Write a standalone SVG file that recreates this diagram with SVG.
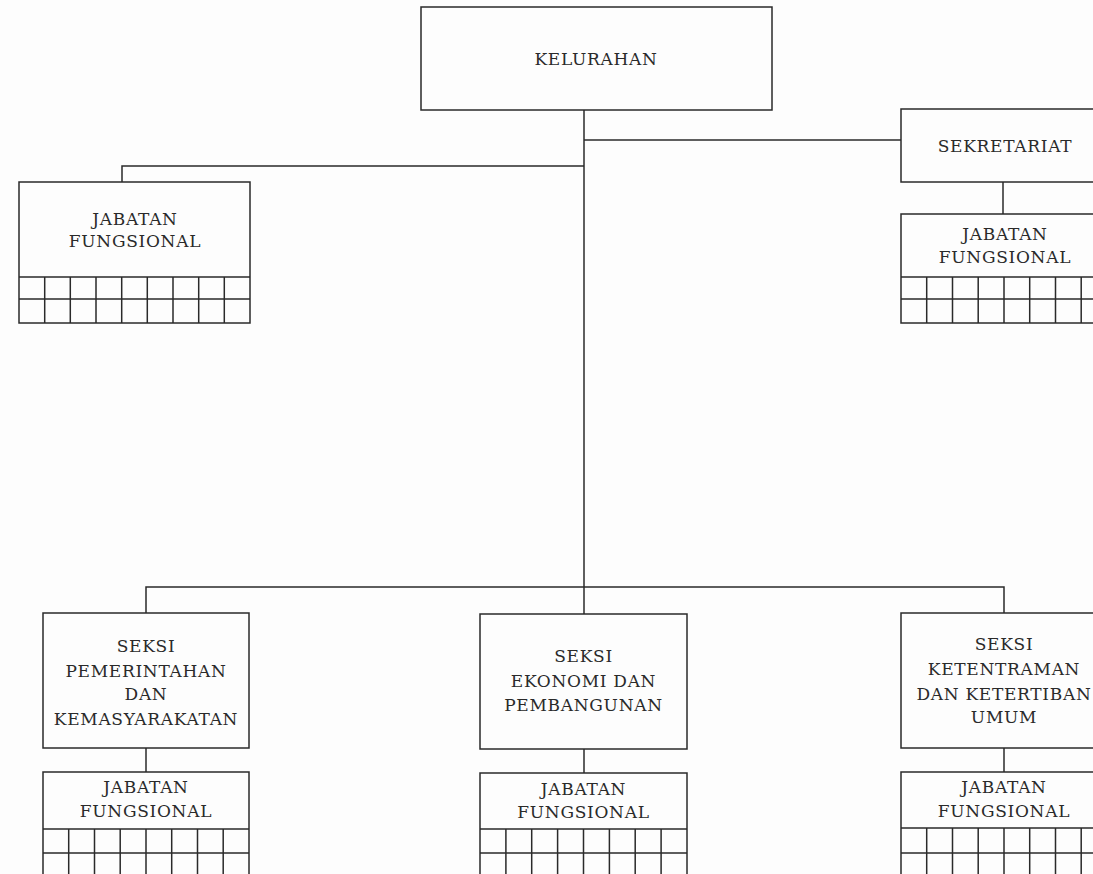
<svg xmlns="http://www.w3.org/2000/svg" width="1093" height="874" viewBox="0 0 1093 874">
<style>
.s{fill:none;stroke:#2a2a2a;stroke-width:1.5}
text{font-family:"DejaVu Serif","Liberation Serif",serif;font-size:17px;letter-spacing:0.7px;fill:#2a2a2a;text-anchor:middle}
</style>
<rect x="0" y="0" width="1093" height="874" fill="#fdfdfd"/>
<g id="connectors" class="s">
<line x1="584" y1="110" x2="584" y2="587"/>
<line x1="584" y1="140" x2="901" y2="140"/>
<path d="M584 166 H122 V182"/>
<line x1="1003" y1="182" x2="1003" y2="214"/>
<path d="M146 613 V587 H1004 V613"/>
<line x1="584" y1="587" x2="584" y2="614"/>
<line x1="146" y1="748" x2="146" y2="772"/>
<line x1="584" y1="749" x2="584" y2="773"/>
<line x1="1004" y1="748" x2="1004" y2="772"/>
</g>
<g id="kelurahan">
<rect class="s" x="421" y="7" width="351" height="103"/>
<text x="596" y="65">KELURAHAN</text>
</g>
<g id="jf-left">
<rect class="s" x="19" y="182" width="231" height="141"/>
<path class="s" d="M19 277 H250 M19 299 H250 M44.7 277 V323 M70.3 277 V323 M96 277 V323 M121.7 277 V323 M147.3 277 V323 M173 277 V323 M198.7 277 V323 M224.3 277 V323"/>
<text x="135" y="225">JABATAN</text>
<text x="135" y="247">FUNGSIONAL</text>
</g>
<g id="sekretariat">
<rect class="s" x="901" y="109" width="206" height="73"/>
<text x="1005" y="152">SEKRETARIAT</text>
</g>
<g id="jf-sekretariat">
<rect class="s" x="901" y="214" width="206" height="109"/>
<path class="s" d="M901 277 H1107 M901 299 H1107 M926.7 277 V323 M952.5 277 V323 M978.2 277 V323 M1004 277 V323 M1029.7 277 V323 M1055.5 277 V323 M1081.2 277 V323"/>
<text x="1005" y="240">JABATAN</text>
<text x="1005" y="263">FUNGSIONAL</text>
</g>
<g id="seksi-pemerintahan">
<rect class="s" x="43" y="613" width="206" height="135"/>
<text x="146" y="652">SEKSI</text>
<text x="146" y="677">PEMERINTAHAN</text>
<text x="146" y="700">DAN</text>
<text x="146" y="725">KEMASYARAKATAN</text>
</g>
<g id="jf-pemerintahan">
<rect class="s" x="43" y="772" width="206" height="105"/>
<path class="s" d="M43 829 H249 M43 853 H249 M68.7 829 V877 M94.5 829 V877 M120.2 829 V877 M146 829 V877 M171.7 829 V877 M197.5 829 V877 M223.2 829 V877"/>
<text x="146" y="793">JABATAN</text>
<text x="146" y="817">FUNGSIONAL</text>
</g>
<g id="seksi-ekonomi">
<rect class="s" x="480" y="614" width="207" height="135"/>
<text x="583.5" y="662">SEKSI</text>
<text x="583.5" y="687">EKONOMI DAN</text>
<text x="583.5" y="711">PEMBANGUNAN</text>
</g>
<g id="jf-ekonomi">
<rect class="s" x="480" y="773" width="207" height="104"/>
<path class="s" d="M480 829 H687 M480 853 H687 M505.9 829 V877 M531.7 829 V877 M557.6 829 V877 M583.5 829 V877 M609.4 829 V877 M635.2 829 V877 M661.1 829 V877"/>
<text x="583.5" y="795">JABATAN</text>
<text x="583.5" y="818">FUNGSIONAL</text>
</g>
<g id="seksi-ketentraman">
<rect class="s" x="901" y="613" width="206" height="135"/>
<text x="1004" y="650">SEKSI</text>
<text x="1004" y="675">KETENTRAMAN</text>
<text x="1004" y="700">DAN KETERTIBAN</text>
<text x="1004" y="723">UMUM</text>
</g>
<g id="jf-ketentraman">
<rect class="s" x="901" y="772" width="206" height="105"/>
<path class="s" d="M901 828 H1107 M901 853 H1107 M926.7 828 V877 M952.5 828 V877 M978.2 828 V877 M1004 828 V877 M1029.7 828 V877 M1055.5 828 V877 M1081.2 828 V877"/>
<text x="1004" y="793">JABATAN</text>
<text x="1004" y="817">FUNGSIONAL</text>
</g>
</svg>
